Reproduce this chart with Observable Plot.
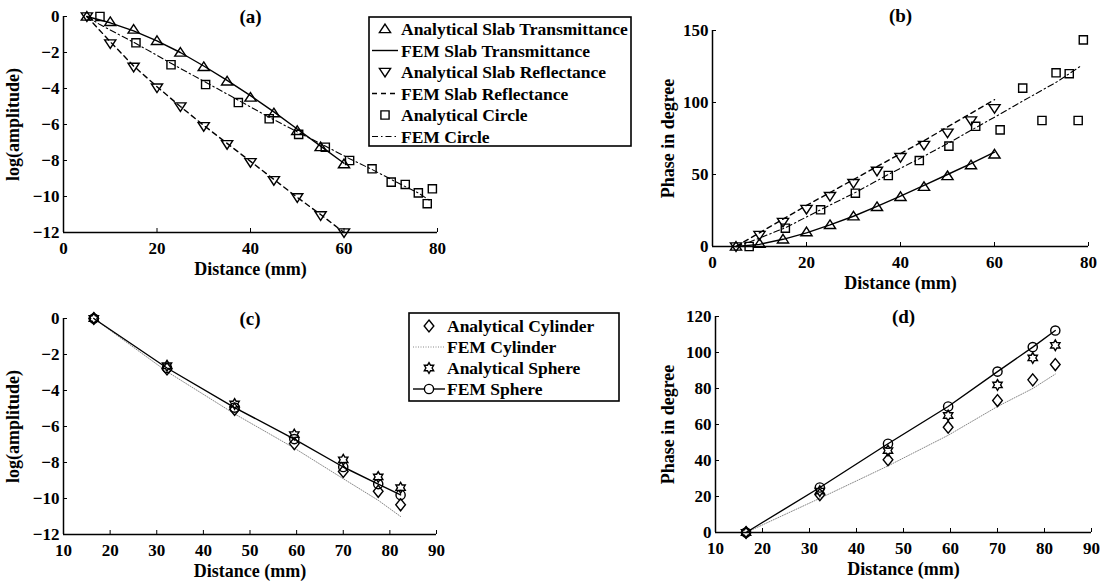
<!DOCTYPE html>
<html><head><meta charset="utf-8">
<script src="https://cdn.jsdelivr.net/npm/d3@7"></script>
<script src="https://cdn.jsdelivr.net/npm/@observablehq/plot@0.6"></script>
<style>
body{margin:0;background:#fff;}
#wrap{position:relative;width:1105px;height:582px;overflow:hidden;background:#fff;}
#wrap svg{position:absolute;left:0;top:0;}
</style></head><body><div id="wrap"></div>
<script>
// ---------- data ----------
// Panel (a)/(b): slab
const slabX = [5,10,15,20,25,30,35,40,45,50,55,60];
const aTransAmp = [0,-0.3,-0.72,-1.35,-2.0,-2.8,-3.6,-4.5,-5.37,-6.35,-7.25,-8.2];
const femTransAmp = [0,-0.35,-0.8,-1.35,-2.0,-2.75,-3.55,-4.4,-5.3,-6.25,-7.2,-8.15];
const aReflAmp = [0,-1.5,-2.8,-3.95,-5.0,-6.1,-7.1,-8.1,-9.1,-10.05,-11.05,-12.0];
const femReflAmp = [0,-1.4,-2.75,-3.9,-5.0,-6.05,-7.05,-8.05,-9.05,-10.05,-11.0,-12.0];
const aTransPh = [0,2,5,10,15,21,27.5,34.5,41.5,49,56.5,64];
const femTransPh = [0,1.5,5,9.5,15,21,27.8,35,42.5,50,57.5,65.5];
const aReflPh = [0,8,17,26,35,44,52.5,62,70.5,79,87.5,96];
const femReflPh = [0,9.5,19,28.5,37.5,46.5,55.5,64.5,73.5,83,92.5,102];
// circle
const circX = [7.8,15.5,23,30.4,37.4,44,50.3,56,61.2,66,70.1,73.1,75.9,77.8,78.9];
const aCircAmp = [0,-1.46,-2.68,-3.78,-4.78,-5.68,-6.55,-7.26,-8.0,-8.46,-9.2,-9.33,-9.8,-10.4,-9.57];
const aCircPh = [0,12.7,25.5,37,49.3,59.7,69.7,83.5,81,110,87.5,120.6,120,87.5,143.5];
const femCircX = [5,7.8,15.5,23,30.4,37.4,44,50.3,56,61.2,66,70.1,73.1,75.9,78.2];
const femCircAmp = [0,-0.45,-1.5,-2.6,-3.65,-4.65,-5.6,-6.45,-7.2,-7.9,-8.5,-9.05,-9.45,-9.8,-10.2];
const femCircPh = [0,3,13,25.5,37.5,50,61,72,82.5,92,101,108.5,114,120,125];
// Panel (c)/(d): cylinder & sphere
const sphX = [16.5,32.2,46.7,59.5,70,77.5,82.3];
const aCylAmp = [0,-2.8,-5.05,-6.95,-8.5,-9.6,-10.35];
const femCylAmp = [0,-2.95,-5.3,-7.2,-8.9,-10.1,-11.0];
const aSphAmp = [0,-2.62,-4.75,-6.45,-7.85,-8.8,-9.4];
const femSphAmp = [0,-2.75,-4.95,-6.7,-8.25,-9.2,-9.8];
const aCylPh = [0,21,40.4,58.5,73.3,84.8,93.3];
const femCylPh = [0,19,37,54,70,80,88];
const aSphPh = [0,23,45.5,65,82,97,104];
const femSphPh = [0,25,49.3,70,89.4,103,112.2];
// ticks & labels
const ticks0to80 = [0,20,40,60,80];
const ticks10to90 = [10,20,30,40,50,60,70,80,90];
const ampTicks = [-12,-10,-8,-6,-4,-2,0];
const phTicksB = [0,50,100,150];
const phTicksD = [0,20,40,60,80,100,120];
const legendA = ["Analytical Slab Transmittance","FEM Slab Transmittance","Analytical Slab Reflectance","FEM Slab Reflectance","Analytical Circle","FEM Circle"];
const legendC = ["Analytical Cylinder","FEM Cylinder","Analytical Sphere","FEM Sphere"];

// ---------- symbols ----------
const sz = (size) => Math.sqrt(size / Math.PI);
const triUp = {draw(c, size){const s=sz(size); c.moveTo(0,-s*1.15); c.lineTo(s*1.3,s*0.85); c.lineTo(-s*1.3,s*0.85); c.closePath();}};
const sq = {draw(c, size){const s=sz(size)*0.95; c.rect(-s,-s,2*s,2*s);}};
const diam = {draw(c, size){const s=sz(size); c.moveTo(0,-s*1.3); c.lineTo(s*1.05,0); c.lineTo(0,s*1.3); c.lineTo(-s*1.05,0); c.closePath();}};
const hexa = {draw(c, size){const R=sz(size)*1.25, r=R/Math.sqrt(3); for(let i=0;i<12;i++){const a=Math.PI/6*i-Math.PI/2, rr=i%2?r:R; const x=rr*Math.cos(a), y=rr*Math.sin(a); if(i) c.lineTo(x,y); else c.moveTo(x,y);} c.closePath();}};

const pts = (xs, ys) => xs.map((x,i)=>({x, y: ys[i]}));
const FONT = "Liberation Serif, Times New Roman, serif";
const W = 1105, H = 582;
const dotOpts = {x:"x", y:"y", stroke:"black", fill:"none", strokeWidth:1.4};
const lineOpts = {x:"x", y:"y", stroke:"black", strokeWidth:1.4};

function panel({xDomain, yDomain, xTicks, yTicks, left, right, top, bottom, ylabel, ylabelDx, title, titleDy, marks}) {
  return Plot.plot({
    width: W, height: H,
    marginLeft: left, marginRight: W - right, marginTop: top, marginBottom: H - bottom,
    x: {domain: xDomain}, y: {domain: yDomain},
    style: {fontFamily: FONT, fontWeight: "bold", fontSize: "17px", background: "transparent", color: "black", overflow: "visible"},
    marks: [
      ...marks,
      Plot.ruleX([xDomain[0]], {stroke: "black", strokeWidth: 1.5}),
      Plot.ruleY([yDomain[0]], {stroke: "black", strokeWidth: 1.5}),
      Plot.axisX({ticks: xTicks, tickSize: -4, tickPadding: 13, tickFormat: d => d, label: null, fontSize: 17}),
      Plot.axisY({ticks: yTicks, tickSize: -4, tickPadding: 8, tickFormat: d => d < 0 ? "\u2212" + Math.abs(d) : String(d), label: null, fontSize: 17}),
      Plot.text(["Distance (mm)"], {frameAnchor: "bottom", dy: 37, lineAnchor: "middle", textAnchor: "middle", text: d => d, fontSize: 18, fontWeight: "bold"}),
      Plot.text([ylabel], {frameAnchor: "left", dx: ylabelDx, rotate: -90, lineAnchor: "middle", textAnchor: "middle", text: d => d, fontSize: 18, fontWeight: "bold"}),
      Plot.text([title], {frameAnchor: "top", dy: titleDy, lineAnchor: "middle", textAnchor: "middle", text: d => d, fontSize: 19, fontWeight: "bold"})
    ]
  });
}

const wrap = document.getElementById("wrap");

const pA = panel({
  xDomain: [0,80], yDomain: [-12,0], xTicks: ticks0to80, yTicks: ampTicks,
  left: 63, right: 437, top: 16, bottom: 232, ylabel: "log(amplitude)", ylabelDx: -50, title: "(a)", titleDy: 0,
  marks: [
    Plot.line(pts(slabX, femTransAmp), lineOpts),
    Plot.line(pts(slabX, femReflAmp), {...lineOpts, strokeDasharray: "5,4"}),
    Plot.line(pts(femCircX, femCircAmp), {...lineOpts, strokeWidth: 1.1, strokeDasharray: "6,3,1.5,3"}),
    Plot.dot(pts(slabX, aTransAmp), {...dotOpts, symbol: triUp, r: 4.3}),
    Plot.dot(pts(slabX, aReflAmp), {...dotOpts, symbol: triUp, r: 4.3, rotate: 180}),
    Plot.dot(pts(circX, aCircAmp), {...dotOpts, symbol: sq, r: 4.3})
  ]
});
const pB = panel({
  xDomain: [0,80], yDomain: [0,150], xTicks: ticks0to80, yTicks: phTicksB,
  left: 712, right: 1088, top: 30, bottom: 246, ylabel: "Phase in degree", ylabelDx: -44, title: "(b)", titleDy: -15,
  marks: [
    Plot.line(pts(slabX, femTransPh), lineOpts),
    Plot.line(pts(slabX, femReflPh), {...lineOpts, strokeDasharray: "5,4"}),
    Plot.line(pts(femCircX, femCircPh), {...lineOpts, strokeWidth: 1.1, strokeDasharray: "6,3,1.5,3"}),
    Plot.dot(pts(slabX, aTransPh), {...dotOpts, symbol: triUp, r: 4.3}),
    Plot.dot(pts(slabX, aReflPh), {...dotOpts, symbol: triUp, r: 4.3, rotate: 180}),
    Plot.dot(pts(circX, aCircPh), {...dotOpts, symbol: sq, r: 4.3})
  ]
});
const pC = panel({
  xDomain: [10,90], yDomain: [-12,0], xTicks: ticks10to90, yTicks: ampTicks,
  left: 63, right: 436, top: 318, bottom: 534, ylabel: "log(amplitude)", ylabelDx: -50, title: "(c)", titleDy: 0,
  marks: [
    Plot.line(pts(sphX, femCylAmp), {...lineOpts, stroke: "#888", strokeWidth: 1, strokeDasharray: "1,1.5"}),
    Plot.line(pts(sphX, femSphAmp), lineOpts),
    Plot.dot(pts(sphX, aCylAmp), {...dotOpts, symbol: diam, r: 4.6}),
    Plot.dot(pts(sphX, aSphAmp), {...dotOpts, symbol: hexa, r: 4.3}),
    Plot.dot(pts(sphX, femSphAmp), {...dotOpts, symbol: "circle", r: 4.6})
  ]
});
const pD = panel({
  xDomain: [10,90], yDomain: [0,120], xTicks: ticks10to90, yTicks: phTicksD,
  left: 715, right: 1091, top: 316, bottom: 532, ylabel: "Phase in degree", ylabelDx: -47, title: "(d)", titleDy: 0,
  marks: [
    Plot.line(pts(sphX, femCylPh), {...lineOpts, stroke: "#888", strokeWidth: 1, strokeDasharray: "1,1.5"}),
    Plot.line(pts(sphX, femSphPh), lineOpts),
    Plot.dot(pts(sphX, aCylPh), {...dotOpts, symbol: diam, r: 4.6}),
    Plot.dot(pts(sphX, aSphPh), {...dotOpts, symbol: hexa, r: 4.3}),
    Plot.dot(pts(sphX, femSphPh), {...dotOpts, symbol: "circle", r: 4.6})
  ]
});
[pA, pB, pC, pD].forEach(p => wrap.appendChild(p));

// ---------- legends ----------
const leg = d3.select(wrap).append("svg").attr("width", W).attr("height", H)
  .style("font-family", FONT).style("font-weight", "bold").style("font-size", "17.5px");
function legend(box, rows, items) {
  const g = leg.append("g");
  g.append("rect").attr("x", box.x).attr("y", box.y).attr("width", box.w).attr("height", box.h)
    .attr("fill", "white").attr("stroke", "black").attr("stroke-width", 1.6);
  items.forEach((it, i) => {
    const y = rows.y0 + i * rows.dy;
    if (it.line) g.append("line").attr("x1", rows.lx1).attr("x2", rows.lx2).attr("y1", y).attr("y2", y)
      .attr("stroke", it.color || "black").attr("stroke-width", it.sw || 1.4).attr("stroke-dasharray", it.dash || null);
    if (it.sym) g.append("path").attr("d", d3.symbol(it.sym, Math.PI * it.r * it.r)())
      .attr("transform", `translate(${(rows.lx1 + rows.lx2) / 2},${y}) rotate(${it.rot || 0})`)
      .attr("fill", it.line ? "white" : "none").attr("stroke", "black").attr("stroke-width", 1.4);
    g.append("text").attr("x", rows.tx).attr("y", y).attr("dy", "0.35em").text(it.label);
  });
}
legend({x: 369, y: 17, w: 262, h: 129}, {y0: 29, dy: 21.5, lx1: 372, lx2: 398, tx: 401}, [
  {label: legendA[0], sym: triUp, r: 4.3},
  {label: legendA[1], line: true},
  {label: legendA[2], sym: triUp, r: 4.3, rot: 180},
  {label: legendA[3], line: true, dash: "5,4"},
  {label: legendA[4], sym: sq, r: 4.3},
  {label: legendA[5], line: true, sw: 1.1, dash: "6,3,1.5,3"}
]);
legend({x: 409, y: 313, w: 210, h: 88}, {y0: 326, dy: 21, lx1: 413, lx2: 445, tx: 447}, [
  {label: legendC[0], sym: diam, r: 4.6},
  {label: legendC[1], line: true, color: "#888", sw: 1, dash: "1,1.5"},
  {label: legendC[2], sym: hexa, r: 4.3},
  {label: legendC[3], line: true, sym: d3.symbolCircle, r: 4.6}
]);
</script></body></html>
